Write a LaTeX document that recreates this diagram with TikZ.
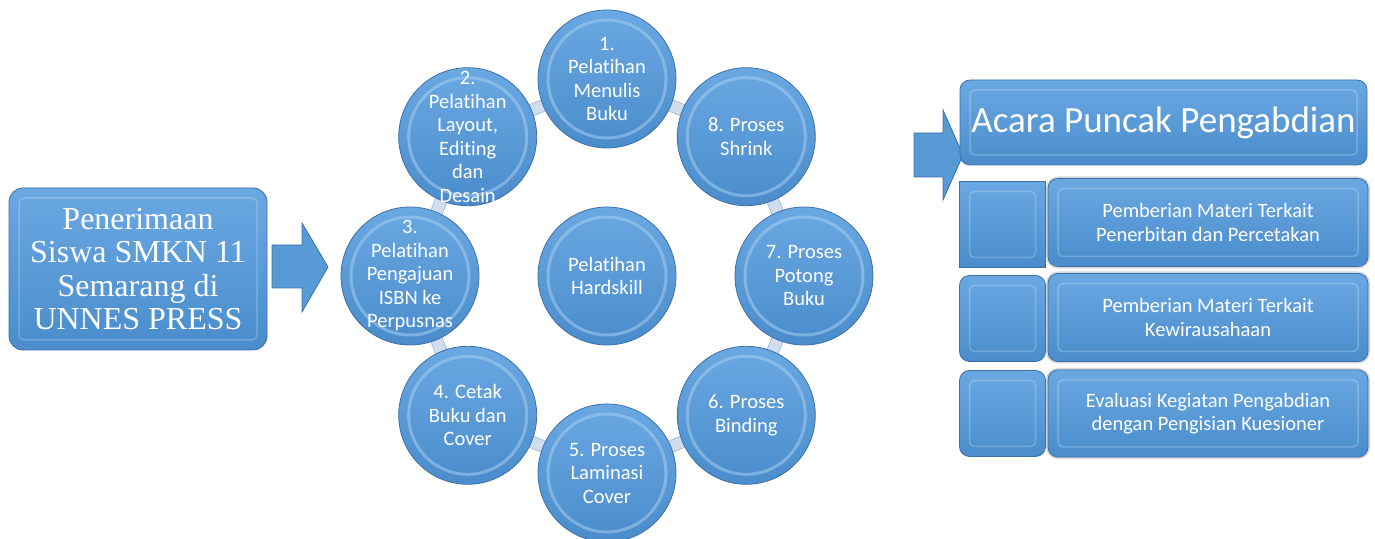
\documentclass[tikz,border=0pt]{standalone}
\usepackage{fontspec}
\setmainfont[RawFeature={-liga;-clig;-calt;-dlig;-rlig}]{Carlito}
\newfontfamily\serifbox{Liberation Serif}
\usetikzlibrary{calc,backgrounds}

\definecolor{ballblue}{RGB}{88,154,214}
\definecolor{balltop}{RGB}{106,168,226}
\definecolor{ballbottom}{RGB}{74,140,204}
\definecolor{balledge}{RGB}{62,112,168}
\definecolor{balllight}{RGB}{165,205,240}
\definecolor{ringfill}{RGB}{208,221,238}
\definecolor{ringedge}{RGB}{160,182,212}
\definecolor{framegray}{RGB}{212,213,218}

\tikzset{
	ball/.style={circle, minimum size=138pt, inner sep=0pt, draw=balledge, line width=.8pt,
		top color=balltop, bottom color=ballbottom,
		path picture={\draw[balllight, line width=3pt, opacity=.55] (path picture bounding box.center) circle (59pt);}},
	balltext/.style={text=white, align=center, inner sep=0pt, font=\fontsize{20.5}{23.5}\selectfont},
	ringline/.style={draw=ringedge, line width=.8pt, double=ringfill, double distance=11pt},
	bluebox/.style={rounded corners=10pt, draw=balledge, line width=.8pt, top color=balltop, bottom color=ballbottom,
		text=white, align=center, inner sep=0pt, font=\fontsize{20.5}{23.5}\selectfont,
		path picture={\draw[white, opacity=.22, line width=1.5pt, rounded corners=5pt]
			($(path picture bounding box.south west)+(10,10)$) rectangle ($(path picture bounding box.north east)-(10,10)$);}},
	framebox/.style={bluebox, preaction={draw=framegray, line width=4pt}},
	blockarrow/.style={fill=ballblue, draw=balledge, line width=.8pt},
}

\begin{document}
\begin{tikzpicture}[x=1pt, y=1pt]
	\useasboundingbox (0,0) rectangle (1375,538);

	\node[bluebox, rounded corners=14pt, minimum width=258pt, minimum height=162pt,
		font=\serifbox\fontsize{32}{33.5}\selectfont] (start) at (138,269) {Penerimaan\\Siswa SMKN 11\\Semarang di\\UNNES PRESS};
	\draw[blockarrow] (272,293) -- (302,293) -- (302,315) -- (328,271) -- (302,226) -- (302,250) -- (272,250) -- cycle;

	% ring of steps
	\node[ball] (hub) at (607,262) {};
	\node[balltext] (hubtext) at (hub) {Pelatihan\\Hardskill};
	\foreach \i/\ang/\txt in {1/90/{1.\\Pelatihan\\Menulis\\Buku},
			2/135/{2.\\Pelatihan\\Layout,\\Editing\\dan\\Desain},
			3/180/{3.\\Pelatihan\\Pengajuan\\ISBN ke\\Perpusnas},
			4/225/{4. Cetak\\Buku dan\\Cover},
			5/270/{5. Proses\\Laminasi\\Cover},
			6/315/{6. Proses\\Binding},
			7/0/{7. Proses\\Potong\\Buku},
			8/45/{8. Proses\\Shrink}}{
		\node[ball] (s\i) at ($(hub)+(\ang:197)$) {};
		\node[balltext] (t\i) at (s\i) {\txt};
	}
	\begin{scope}[on background layer]
		\foreach \i/\j in {1/2,2/3,3/4,4/5,5/6,6/7,7/8,8/1}
			\draw[ringline] (s\i.center) -- (s\j.center);
	\end{scope}

	\draw[blockarrow] (914,405) -- (943,405) -- (943,428) -- (963,383) -- (943,338) -- (943,361) -- (914,361) -- cycle;
	\node[bluebox, minimum width=407pt, minimum height=85pt, font=\fontsize{37}{40}\selectfont] (peak) at (1163.5,415.5) {Acara Puncak Pengabdian};

	\node[bluebox, sharp corners, minimum size=86pt] (sq1) at (1002.5,313.5) {};
	\node[bluebox, minimum size=86pt] (sq2) at (1002.5,219.5) {};
	\node[bluebox, minimum size=86pt] (sq3) at (1002.5,124.5) {};
	\node[framebox, minimum width=320pt, minimum height=88pt] (item1) at (1208,315.5) {Pemberian Materi Terkait\\Penerbitan dan Percetakan};
	\node[framebox, minimum width=320pt, minimum height=88pt] (item2) at (1208,220.5) {Pemberian Materi Terkait\\Kewirausahaan};
	\node[framebox, minimum width=320pt, minimum height=87pt] (item3) at (1208,124.5) {Evaluasi Kegiatan Pengabdian\\dengan Pengisian Kuesioner};
\end{tikzpicture}
\end{document}
